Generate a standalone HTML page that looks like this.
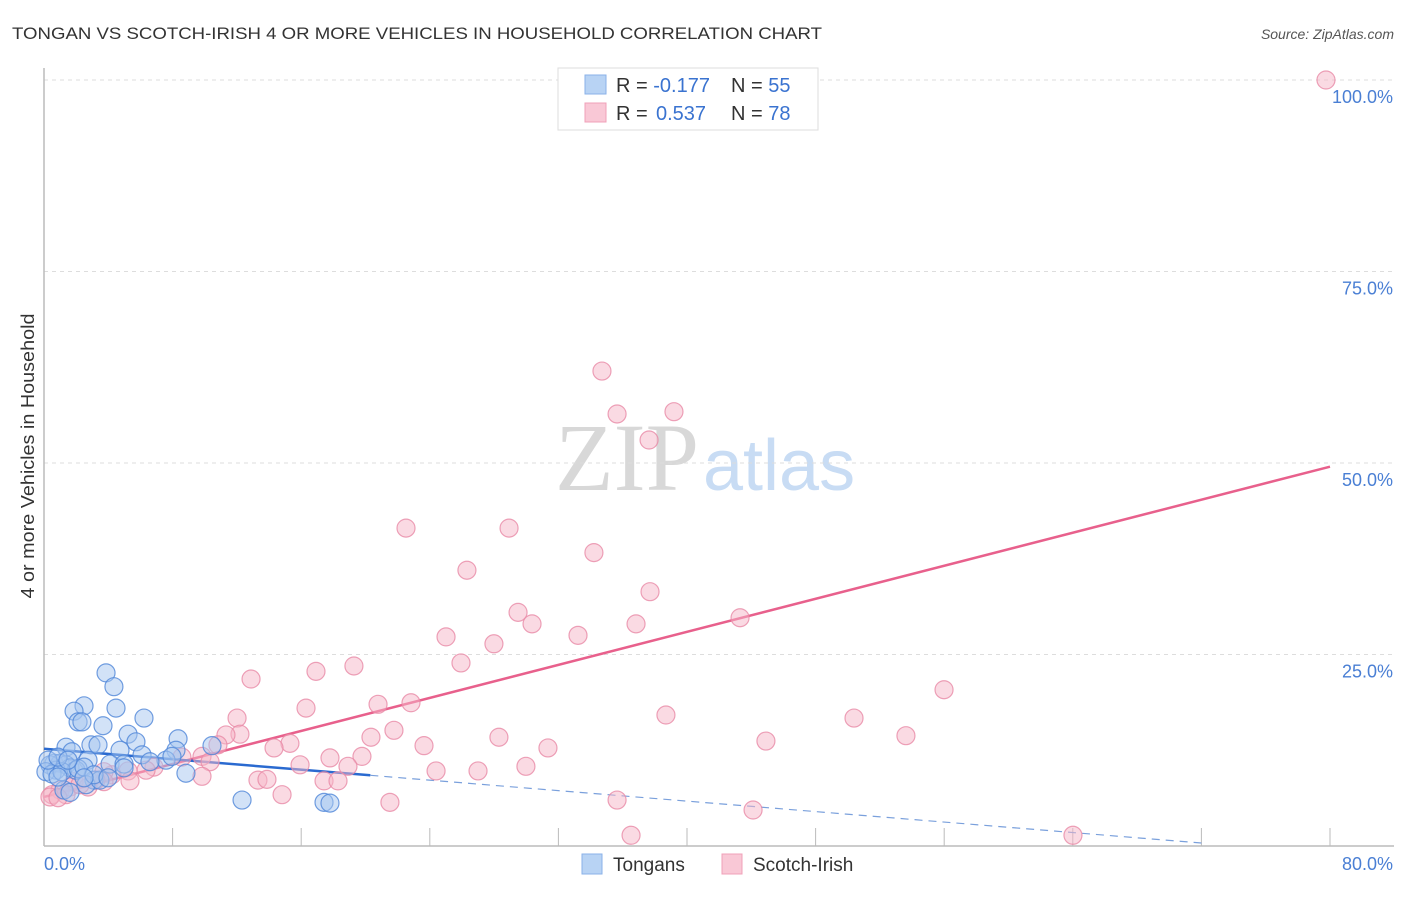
<!DOCTYPE html>
<html><head><meta charset="utf-8"><style>
body{margin:0;background:#fff;font-family:"Liberation Sans",sans-serif;}
svg text{font-family:"Liberation Sans",sans-serif;}
</style></head><body>
<svg id="chart" width="1406" height="892" xmlns="http://www.w3.org/2000/svg">
<text x="12" y="39" font-size="17" fill="#333" textLength="810" lengthAdjust="spacingAndGlyphs">TONGAN VS SCOTCH-IRISH 4 OR MORE VEHICLES IN HOUSEHOLD CORRELATION CHART</text>
<text x="1394" y="39" font-size="14" fill="#555" text-anchor="end" font-style="italic">Source: ZipAtlas.com</text>
<text x="555" y="490" font-size="96"><tspan fill="#d8d8d8" font-family="Liberation Serif">ZIP</tspan><tspan fill="#c8dcf4" font-size="72" dx="4">atlas</tspan></text>
<text transform="translate(34,456) rotate(-90)" font-size="18" fill="#333" text-anchor="middle" textLength="285" lengthAdjust="spacingAndGlyphs">4 or more Vehicles in Household</text>
<g id="grid"></g><g id="axes"></g><g id="trend"></g><g id="pts"></g>
<g>
<rect x="558" y="68" width="260" height="62" fill="#fff" stroke="#ddd"/>
<rect x="585" y="75" width="21" height="19" fill="#b8d3f4" stroke="#8ab2e8"/>
<rect x="585" y="103" width="21" height="19" fill="#f9c8d6" stroke="#f0a0b8"/>
<text x="616" y="92" font-size="20" fill="#333">R = <tspan fill="#3a73d0">-0.177</tspan><tspan x="731">N = </tspan><tspan fill="#3a73d0">55</tspan></text>
<text x="616" y="120" font-size="20" fill="#333">R = <tspan fill="#3a73d0" x="656">0.537</tspan><tspan x="731">N = </tspan><tspan fill="#3a73d0">78</tspan></text>
</g>
<text x="44" y="870" font-size="18" fill="#4a7fd4">0.0%</text>
<text x="1393" y="870" font-size="18" fill="#4a7fd4" text-anchor="end">80.0%</text>
<g><rect x="582" y="854" width="20" height="20" fill="#b8d3f4" stroke="#8ab2e8"/><text x="613" y="871" font-size="19" fill="#333">Tongans</text></g>
<g><rect x="722" y="854" width="20" height="20" fill="#f9c8d6" stroke="#f0a0b8"/><text x="753" y="871" font-size="19" fill="#333">Scotch-Irish</text></g>
</svg>
<script>
const blueX=[3.86,4.35,2.49,1.87,4.48,2.12,2.36,6.22,3.67,5.23,8.34,2.92,3.36,5.72,1.37,1.74,4.73,6.10,2.74,8.21,10.45,4.11,4.98,0.62,1.0,0.37,1.37,1.62,1.99,0.75,0.12,0.5,1.12,2.12,2.49,7.59,8.83,6.59,4.98,3.11,2.61,3.48,1.24,1.62,12.32,17.42,17.79,0.25,0.87,1.49,3.11,3.98,2.49,0.87,7.96];
const blueY=[22.6,20.8,18.3,17.6,18.0,16.2,16.2,16.7,15.7,14.6,14.0,13.2,13.2,13.6,12.9,12.3,12.5,11.9,11.2,12.5,13.1,10.7,10.7,10.8,10.8,10.6,10.6,10.2,9.9,9.9,9.7,9.4,9.7,10.1,10.3,11.2,9.5,11.0,10.2,8.6,8.0,8.6,7.3,7.0,6.0,5.7,5.6,11.2,11.6,11.2,9.3,8.9,8.9,9.0,11.7];
const pinkX=[79.75,34.71,35.65,39.19,37.64,22.52,28.93,34.21,26.31,37.70,29.49,30.36,25.01,33.22,27.99,36.83,43.30,25.94,19.28,16.92,12.88,55.99,20.78,22.83,16.30,12.01,38.69,50.39,21.77,28.30,53.62,12.19,20.34,15.30,44.91,11.32,31.35,14.31,23.64,10.82,17.79,19.78,15.93,18.91,8.58,9.83,10.33,6.84,6.35,5.23,4.23,3.73,24.39,27.0,29.98,9.83,13.31,13.87,17.42,18.29,5.35,3.73,3.23,1.87,2.74,1.0,0.5,0.37,14.81,21.52,35.65,44.11,36.52,64.01,1.62,2.24,1.37,0.87];
const pinkY=[100,62.0,56.4,56.7,53.0,41.5,41.5,38.3,36.0,33.2,30.5,29.0,27.3,27.5,26.4,29.0,29.8,23.9,23.5,22.8,21.8,20.4,18.5,18.7,18.0,16.7,17.1,16.7,15.1,14.2,14.4,14.6,14.2,13.4,13.7,14.5,12.8,12.8,13.1,13.2,11.5,11.7,10.6,10.4,11.6,11.7,11.0,10.3,9.9,9.8,9.3,9.7,9.8,9.8,10.4,9.1,8.6,8.7,8.5,8.5,8.5,8.4,8.6,8.4,7.7,7.3,6.7,6.4,6.7,5.7,6.0,4.7,1.4,1.4,7.7,8.0,6.7,6.3];
const yTicks=[25,50,75,100];
const yTickLabels=["25.0%","50.0%","75.0%","100.0%"];
const xTicks=[8,16,24,32,40,48,56,64,72,80];
const blueTrend=[12.7,-0.171]; // intercept, slope
const pinkTrend=[6.4,0.539];
const blueSolidEnd=20.3, blueDashEnd=72;

const NS="http://www.w3.org/2000/svg";
const X=v=>44+v*16.075, Y=v=>846-v*7.66;
function mk(tag,attrs,parent){const e=document.createElementNS(NS,tag);for(const k in attrs)e.setAttribute(k,attrs[k]);document.getElementById(parent).appendChild(e);return e;}
yTicks.forEach((t,i)=>{
  const g=mk('line',{x1:44,x2:1394,y1:Y(t),y2:Y(t),stroke:'#ddd','stroke-dasharray':'4,4'},'grid');
  
  
  const l=mk('text',{x:1393,y:Y(t)+23,'font-size':18,fill:'#4a7fd4','text-anchor':'end'},'grid');
  l.textContent=yTickLabels[i];
  
  
});
const ax=mk('line',{x1:44,x2:44,y1:68,y2:846,stroke:'#bbb','stroke-width':1.5},'axes');


const bx=mk('line',{x1:44,x2:1394,y1:846,y2:846,stroke:'#bbb','stroke-width':1.5},'axes');


xTicks.forEach(t=>{const e=mk('line',{x1:X(t),x2:X(t),y1:828,y2:846,stroke:'#bbb'},'axes');
  
  });
function drawPts(xs,ys,fill,stroke,name){xs.forEach((x,i)=>{const c=mk('circle',{cx:X(x),cy:Y(ys[i]),r:9,fill:fill,'fill-opacity':0.5,stroke:stroke,'stroke-width':1.2,'stroke-opacity':0.8},'pts');
  
  });}
drawPts(pinkX,pinkY,'#f6b6c8','#e88aa6','scotch-irish-point');
drawPts(blueX,blueY,'#a6c6f0','#4f86d8','tongan-point');
const pl=mk('line',{x1:X(0),y1:Y(pinkTrend[0]),x2:X(80),y2:Y(pinkTrend[0]+pinkTrend[1]*80),stroke:'#e8608c','stroke-width':2.5},'trend');


const bl=mk('line',{x1:X(0),y1:Y(blueTrend[0]),x2:X(blueSolidEnd),y2:Y(blueTrend[0]+blueTrend[1]*blueSolidEnd),stroke:'#2a6ad0','stroke-width':2.5},'trend');


const bd=mk('line',{x1:X(blueSolidEnd),y1:Y(blueTrend[0]+blueTrend[1]*blueSolidEnd),x2:X(blueDashEnd),y2:Y(blueTrend[0]+blueTrend[1]*blueDashEnd),stroke:'#7aa0dc','stroke-width':1.2,'stroke-dasharray':'8,6'},'trend');


</script>
</body></html>
